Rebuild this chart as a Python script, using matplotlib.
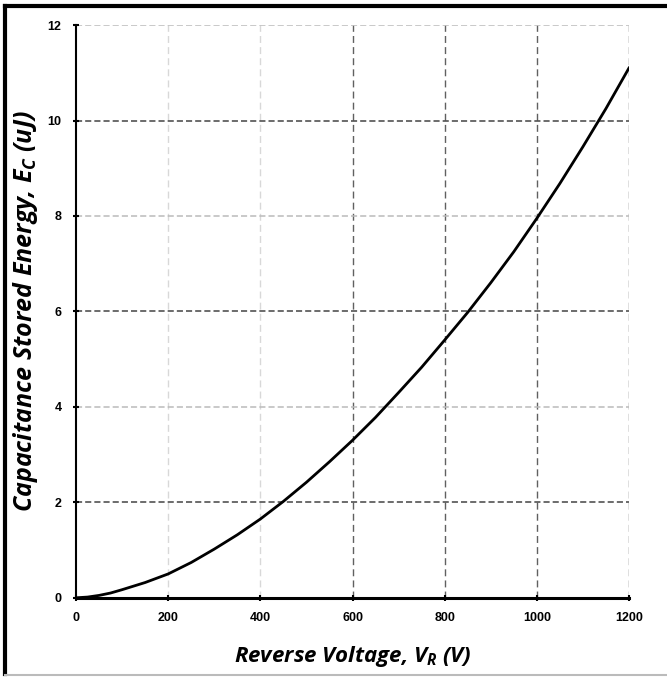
import matplotlib
matplotlib.use("Agg")
import matplotlib.pyplot as plt
from matplotlib.lines import Line2D

plt.rcParams.update({
    'mathtext.fontset': 'custom',
    'mathtext.it': 'Open Sans:bold:italic',
    'mathtext.rm': 'Open Sans:bold:italic',
    'mathtext.bf': 'Open Sans:bold:italic',
    'mathtext.default': 'it',
})

# ── data ────────────────────────────────────────────────────────────────────
voltage = [0, 25, 50, 75, 100, 150, 200, 250, 300, 350, 400, 450, 500, 550, 600,
           650, 700, 750, 800, 850, 900, 950, 1000, 1050, 1100, 1150, 1200]
energy  = [0, 0.015, 0.05, 0.10, 0.17, 0.32, 0.50, 0.74, 1.02, 1.32, 1.65, 2.02, 2.42, 2.85, 3.30,
           3.78, 4.30, 4.83, 5.40, 5.98, 6.60, 7.25, 7.95, 8.68, 9.45, 10.25, 11.1]
x_ticks = [0, 200, 400, 600, 800, 1000, 1200]
y_ticks = [0, 2, 4, 6, 8, 10, 12]

TICK_FONT = ['Liberation Sans Narrow', 'Liberation Sans', 'DejaVu Sans']
LABEL_FONT = ['Open Sans', 'DejaVu Sans']

fig = plt.figure(figsize=(6.67, 6.77), dpi=100)
ax = fig.add_axes([0.114, 0.117, 0.829, 0.846])

# grid: alternating light / dark dashed lines like the reference
for xv in x_ticks[1:]:
    col = '#d8d8d8' if xv < 600 else '#606060'
    ax.axvline(xv, color=col, ls=(0, (5, 3)), lw=1.0, zorder=1)
for yv in y_ticks[1:]:
    col = '#444444' if yv in (2, 6, 10) else '#bbbbbb'
    ax.axhline(yv, color=col, ls=(0, (4, 2)), lw=1.1, zorder=1)

ax.plot(voltage, energy, color='black', lw=2.0, zorder=3)

ax.set_xlim(0, 1200)
ax.set_ylim(0, 12)
ax.set_xticks(x_ticks)
ax.set_yticks(y_ticks)
for s in ('top', 'right'):
    ax.spines[s].set_visible(False)
ax.spines['left'].set_linewidth(1.5)
ax.spines['bottom'].set_linewidth(2.2)
ax.tick_params(direction='inout', length=5, width=1.5, pad=8)
for lab in ax.get_xticklabels() + ax.get_yticklabels():
    lab.set_family(TICK_FONT)
    lab.set_fontsize(9)
    lab.set_fontweight('bold')

ax.set_xlabel('Reverse Voltage, $V_R$ (V)', family=LABEL_FONT,
              fontsize=16, fontweight='bold', style='italic', labelpad=14)
ax.set_ylabel('Capacitance Stored Energy, $E_C$ (uJ)', family=LABEL_FONT,
              fontsize=18, fontweight='bold', style='italic')
ax.yaxis.set_label_coords(-0.066, 0.5)

# outer frame
fig.add_artist(Line2D([0.007, 1.0], [0.991, 0.991], transform=fig.transFigure, color='black', lw=3))
fig.add_artist(Line2D([0.007, 0.007], [0.004, 0.991], transform=fig.transFigure, color='black', lw=3))
fig.add_artist(Line2D([0.007, 1.0], [0.003, 0.003], transform=fig.transFigure, color='#bbbbbb', lw=1.5))

fig.savefig('out.png', dpi=100)
